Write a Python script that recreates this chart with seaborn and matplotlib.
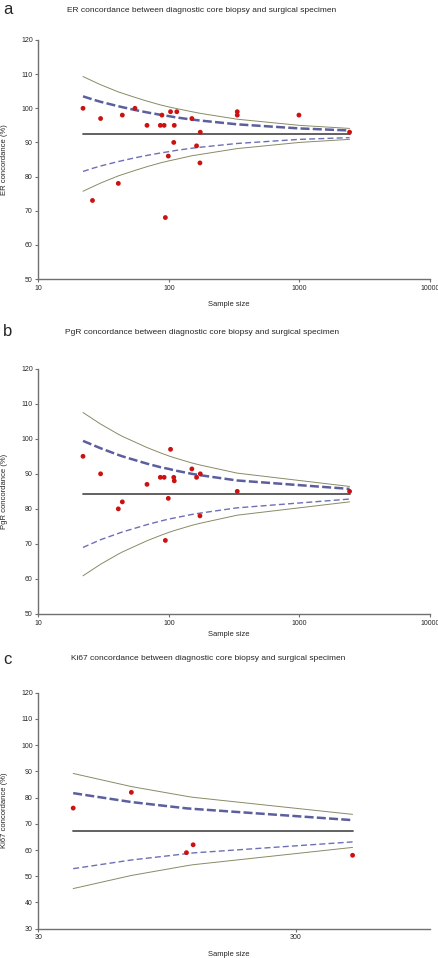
import numpy as np
import pandas as pd
import matplotlib
matplotlib.use("Agg")
import matplotlib.pyplot as plt
import seaborn as sns

# ---- panel a: ER ----
er_n = [22, 26, 30, 41, 44, 55, 68, 86, 88.5, 92, 94, 99, 103, 109, 110, 115,
        150, 163, 173, 174, 334, 334, 991, 2421]
er_conc = [100, 73, 97, 78, 98, 100, 95, 95, 98, 95, 68, 86, 99, 90, 95, 99,
           97, 89, 84, 93, 99, 98, 98, 93]
er_mean = 92.5
er_fn = [22, 26, 30, 41, 55, 68, 86, 100, 115, 150, 175, 334, 1000, 2421]
er_up99 = [109.3, 108.0, 106.9, 104.8, 103.2, 102.1, 101.0, 100.4, 99.9, 99.0, 98.5, 96.8, 95.0, 94.1]
er_up95 = [103.5, 102.6, 101.9, 100.6, 99.5, 98.8, 98.1, 97.7, 97.3, 96.7, 96.4, 95.3, 94.1, 93.5]
er_lo95 = [81.5, 82.4, 83.1, 84.4, 85.5, 86.2, 86.9, 87.3, 87.7, 88.3, 88.6, 89.7, 90.9, 91.4]
er_lo99 = [75.7, 77.0, 78.1, 80.2, 81.8, 82.9, 84.0, 84.6, 85.1, 86.1, 86.5, 88.2, 90.0, 90.9]

# ---- panel b: PgR ----
pgr_n = [22, 30, 41, 44, 68, 86, 92, 94, 99, 103, 109, 110, 150, 163, 173, 174, 334, 2421]
pgr_conc = [95, 90, 80, 82, 87, 89, 89, 71, 83, 97, 89, 88, 91.4, 89, 78, 90, 85, 85]
pgr_mean = 84.2
pgr_fn = [22, 30, 41, 44, 68, 86, 100, 110, 150, 174, 334, 2421]
pgr_up99 = [107.5, 104.2, 101.3, 100.7, 97.5, 96.0, 95.1, 94.6, 93.1, 92.5, 90.2, 86.4]
pgr_up95 = [99.4, 97.3, 95.4, 95.0, 92.9, 91.9, 91.4, 91.0, 90.0, 89.6, 88.1, 85.7]
pgr_lo95 = [69.0, 71.2, 73.0, 73.4, 75.5, 76.5, 77.1, 77.4, 78.4, 78.8, 80.3, 82.8]
pgr_lo99 = [60.9, 64.2, 67.1, 67.7, 70.9, 72.4, 73.3, 73.8, 75.3, 75.9, 78.2, 82.0]

# ---- panel c: Ki67 ----
ki_n = [41, 69, 113, 120, 500]
ki_conc = [76, 82, 59, 62, 58]
ki_mean = 67.3
ki_fn = [41, 69, 113, 120, 500]
ki_up99 = [89.2, 84.2, 80.5, 80.1, 73.6]
ki_up95 = [81.7, 78.3, 75.9, 75.7, 71.4]
ki_lo95 = [52.9, 56.2, 58.6, 58.9, 63.1]
ki_lo99 = [45.3, 50.3, 54.0, 54.4, 61.0]

titles = ["ER concordance between diagnostic core biopsy and surgical specimen",
          "PgR concordance between diagnostic core biopsy and surgical specimen",
          "Ki67 concordance between diagnostic core biopsy and surgical specimen"]
ylabels = ["ER concordance (%)", "PgR concordance (%)", "Ki67 concordance (%)"]
letters = ["a", "b", "c"]

sns.set_style("white")
plt.rcParams["font.family"] = ["Liberation Sans", "DejaVu Sans"]

fig = plt.figure(figsize=(4.39, 9.58), dpi=100)
W, H = 439.0, 958.0

panels = [
    dict(n=er_n, c=er_conc, mean=er_mean, fn=er_fn, u99=er_up99, u95=er_up95,
         l95=er_lo95, l99=er_lo99, top=40, bot=279, ylim=(50, 120),
         xlim=(10, 10000), xticks=[10, 100, 1000, 10000], lt=10, tx=67, xl=305),
    dict(n=pgr_n, c=pgr_conc, mean=pgr_mean, fn=pgr_fn, u99=pgr_up99, u95=pgr_up95,
         l95=pgr_lo95, l99=pgr_lo99, top=368.7, bot=614, ylim=(50, 120),
         xlim=(10, 10000), xticks=[10, 100, 1000, 10000], lt=332, tx=65, xl=634),
    dict(n=ki_n, c=ki_conc, mean=ki_mean, fn=ki_fn, u99=ki_up99, u95=ki_up95,
         l95=ki_lo95, l99=ki_lo99, top=692.7, bot=928.7, ylim=(30, 120),
         xlim=(30, 1000), xticks=[30, 300], lt=659, tx=71, xl=954),
]

left, right = 38.3, 430.0
for i, p in enumerate(panels):
    ax = fig.add_axes([left / W, 1 - p["bot"] / H, (right - left) / W, (p["bot"] - p["top"]) / H])
    fn = pd.DataFrame({"n": p["fn"], "u99": p["u99"], "u95": p["u95"],
                       "l95": p["l95"], "l99": p["l99"]})
    sns.lineplot(data=fn, x="n", y="u99", ax=ax, color="#8a8a66", lw=0.7)
    sns.lineplot(data=fn, x="n", y="l99", ax=ax, color="#8a8a66", lw=0.7)
    sns.lineplot(data=fn, x="n", y="u95", ax=ax, color="#5b5f9e", lw=1.8,
                 linestyle=(0, (3.6, 1.3)))
    sns.lineplot(data=fn, x="n", y="l95", ax=ax, color="#6d70b4", lw=1.0,
                 linestyle=(0, (4.3, 2.3)))
    ax.plot([p["fn"][0], p["fn"][-1]], [p["mean"], p["mean"]], color="#555555", lw=1.3)
    pts = pd.DataFrame({"n": p["n"], "c": p["c"]})
    sns.scatterplot(data=pts, x="n", y="c", ax=ax, color="#cc1111", s=12,
                    edgecolor="none", zorder=5)

    ax.set_xscale("log")
    ax.set_xlim(*p["xlim"])
    ax.set_ylim(*p["ylim"])
    ax.set_xticks(p["xticks"])
    ax.set_xticklabels([str(t) for t in p["xticks"]])
    ax.xaxis.set_minor_locator(matplotlib.ticker.NullLocator())
    ax.set_yticks(np.arange(p["ylim"][0], p["ylim"][1] + 1, 10))
    ax.tick_params(axis="both", labelsize=5, length=2.5, width=0.8,
                   color="#707070", pad=1.5, left=True, bottom=True)
    ax.set_xlabel("")
    ax.set_ylabel("")
    for s in ["top", "right"]:
        ax.spines[s].set_visible(False)
    for s in ["left", "bottom"]:
        ax.spines[s].set_color("#707070")
        ax.spines[s].set_linewidth(1.0)

    fig.text(3 / W, 1 - p["lt"] / H, letters[i], fontsize=12, va="center", ha="left")
    fig.text(p["tx"] / W, 1 - p["lt"] / H, titles[i], fontsize=6, va="center", ha="left")
    fig.text(229 / W, 1 - p["xl"] / H, "Sample size", fontsize=5.5, va="center", ha="center")
    fig.text(5 / W, 1 - (p["top"] + p["bot"]) / 2 / H, ylabels[i], fontsize=5.5,
             rotation=90, va="center", ha="center")

fig.savefig("out.png", dpi=100, facecolor="white")
